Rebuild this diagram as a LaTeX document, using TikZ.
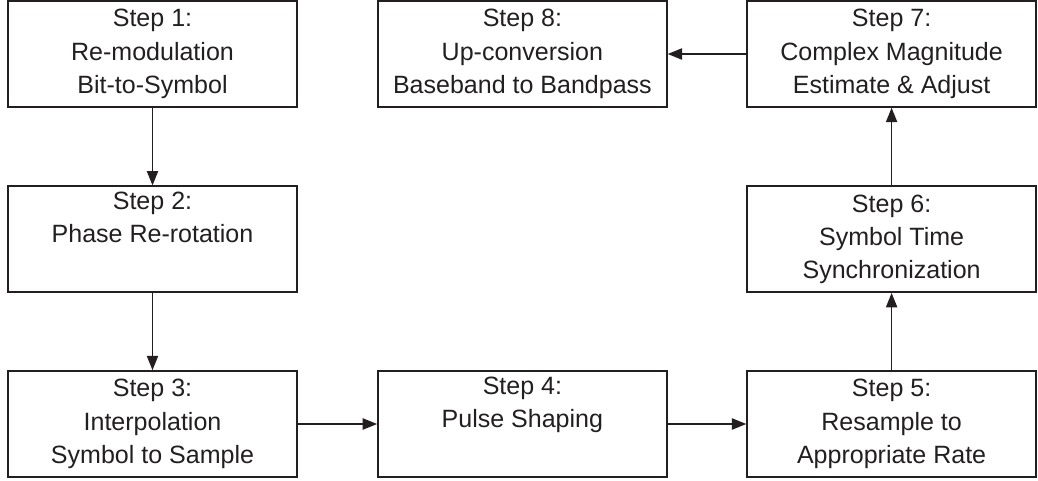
\documentclass[tikz,border=0pt]{standalone}
\usepackage{fontspec}
\setmainfont{Liberation Sans}
\definecolor{sInk}{HTML}{231F20}
\usepackage{tikz}
\usetikzlibrary{arrows.meta, positioning}

\begin{document}
\begin{tikzpicture}[
  stepbox/.style={draw=sInk, line width=1.1pt, fill=white,
              minimum width=7.225cm, minimum height=2.65cm,
              font=\fontsize{17.8}{23.6}\selectfont, text=sInk,
              align=center, inner sep=0pt},
  flow/.style={-{Triangle[length=3.6mm, width=2.8mm]}, sInk, line width=1.1pt}]

  \useasboundingbox (0,0) rectangle (25.95,12);

  \node[stepbox] (s1) at (3.8125,10.65) {Step 1:\\Re-modulation\\Bit-to-Symbol};
  \node[stepbox] (s2) at (3.8125, 6.02) {Step 2:\\Phase Re-rotation\\\strut};
  \node[stepbox] (s3) at (3.8125, 1.40) {Step 3:\\Interpolation\\Symbol to Sample};
  \node[stepbox] (s4) at (13.06, 1.40) {Step 4:\\Pulse Shaping\\\strut};
  \node[stepbox] (s5) at (22.29, 1.40) {Step 5:\\Resample to\\Appropriate Rate};
  \node[stepbox] (s6) at (22.29, 6.02) {Step 6:\\Symbol Time\\Synchronization};
  \node[stepbox] (s7) at (22.29,10.65) {Step 7:\\Complex Magnitude\\Estimate \& Adjust};
  \node[stepbox] (s8) at (13.06,10.65) {Step 8:\\Up-conversion\\Baseband to Bandpass};

  \draw[flow] (s1) -- (s2);
  \draw[flow] (s2) -- (s3);
  \draw[flow] (s3) -- (s4);
  \draw[flow] (s4) -- (s5);
  \draw[flow] (s5) -- (s6);
  \draw[flow] (s6) -- (s7);
  \draw[flow] (s7) -- (s8);
\end{tikzpicture}
\end{document}
